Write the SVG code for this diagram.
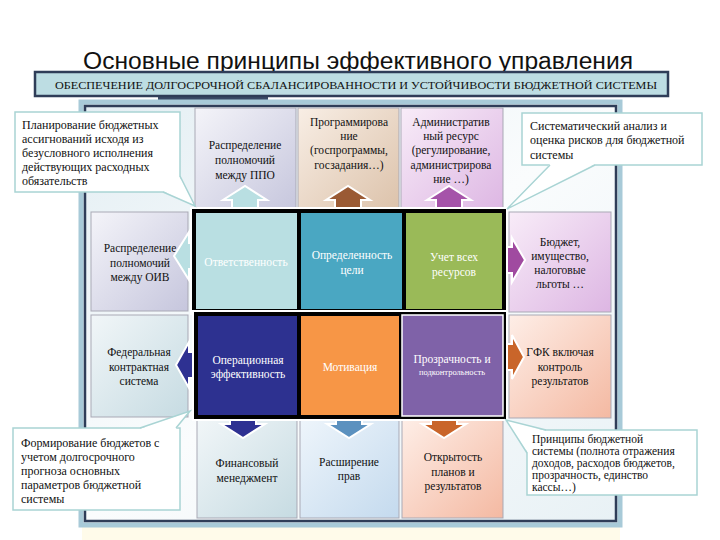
<svg xmlns="http://www.w3.org/2000/svg" width="720" height="540" viewBox="0 0 720 540">
<defs>
<linearGradient id="gLav" x1="0" y1="0" x2="1" y2="1"><stop offset="0" stop-color="#f4f4f9"/><stop offset="1" stop-color="#c6c6dd"/></linearGradient>
<linearGradient id="gBrown" x1="0" y1="0" x2="1" y2="1"><stop offset="0" stop-color="#f8eee5"/><stop offset="1" stop-color="#dcc2aa"/></linearGradient>
<linearGradient id="gPink" x1="0" y1="0" x2="1" y2="1"><stop offset="0" stop-color="#f8ecf8"/><stop offset="1" stop-color="#ddb6e3"/></linearGradient>
<linearGradient id="gBG" x1="0" y1="0" x2="1" y2="1"><stop offset="0" stop-color="#f1f6f8"/><stop offset="1" stop-color="#c6dbe2"/></linearGradient>
<linearGradient id="gBlue" x1="0" y1="0" x2="1" y2="1"><stop offset="0" stop-color="#eef5fb"/><stop offset="1" stop-color="#c4daee"/></linearGradient>
<linearGradient id="gPeach" x1="0" y1="0" x2="1" y2="1"><stop offset="0" stop-color="#feeee7"/><stop offset="1" stop-color="#f4b9a2"/></linearGradient>
<linearGradient id="gFrame" x1="0" y1="0" x2="1" y2="1"><stop offset="0" stop-color="#e3eef3"/><stop offset="0.5" stop-color="#fafcfd"/><stop offset="1" stop-color="#e8f1f5"/></linearGradient>
<style>
.box{stroke:#a9a9b5;stroke-width:1}
.t{font-family:"Liberation Serif","DejaVu Serif",serif;font-size:11.5px;fill:#111;text-anchor:middle}
.w{font-family:"Liberation Serif","DejaVu Serif",serif;font-size:11.5px;fill:#fff;text-anchor:middle}
.c{font-family:"Liberation Serif","DejaVu Serif",serif;font-size:12px;fill:#111}
.c4{font-family:"Liberation Serif","DejaVu Serif",serif;font-size:11.5px;fill:#111}
.co{fill:#fff;stroke:#a9d4d4;stroke-width:1.5}
.wedge{fill:#fff;stroke:none}
.wl{fill:none;stroke:#a9d4d4;stroke-width:1.5}
.arr{stroke:#fff;stroke-width:2;stroke-linejoin:miter}
.cell{stroke:none}
</style>
</defs>
<rect width="720" height="540" fill="#fff"/>
<rect x="82" y="527" width="538" height="13" fill="#fffbea"/>

<g id="title">
<text x="358" y="69" font-family="'Liberation Sans',Arial,sans-serif" font-size="23.5" text-anchor="middle" textLength="550" lengthAdjust="spacingAndGlyphs" fill="#111">Основные принципы эффективного управления</text>
</g>

<g id="banner">
<rect x="158" y="94" width="110" height="7" fill="#3a4a66"/>
<rect x="35" y="72" width="633" height="24" fill="#bddde3" stroke="#2f3d58" stroke-width="2.5"/>
<text x="356" y="88.5" font-family="'Liberation Serif',serif" font-size="11" text-anchor="middle" textLength="602" lengthAdjust="spacingAndGlyphs" fill="#111">ОБЕСПЕЧЕНИЕ ДОЛГОСРОЧНОЙ СБАЛАНСИРОВАННОСТИ И УСТОЙЧИВОСТИ БЮДЖЕТНОЙ СИСТЕМЫ</text>
</g>

<g id="frame">
<rect x="81" y="102" width="539" height="423" fill="url(#gFrame)" stroke="#a8cad8" stroke-width="5"/>
<rect x="85" y="106" width="531" height="415" fill="none" stroke="#2f3d58" stroke-width="2.5"/>
</g>

<g id="box-ppo"><rect class="box" x="195" y="108" width="101" height="104" fill="url(#gLav)"/>
<text class="t" x="245"><tspan x="245" y="149">Распределение</tspan><tspan x="245" y="164">полномочий</tspan><tspan x="245" y="179">между ППО</tspan></text></g>

<g id="box-prog"><rect class="box" x="298" y="108" width="101" height="104" fill="url(#gBrown)"/>
<text class="t"><tspan x="349" y="126">Программирова</tspan><tspan x="349" y="140">ние</tspan><tspan x="349" y="154">(госпрограммы,</tspan><tspan x="349" y="169">госзадания…)</tspan></text></g>

<g id="box-adm"><rect class="box" x="401" y="108" width="102" height="104" fill="url(#gPink)"/>
<text class="t"><tspan x="451" y="126">Административ</tspan><tspan x="451" y="140">ный ресурс</tspan><tspan x="451" y="154">(регулирование,</tspan><tspan x="451" y="169">администрирова</tspan><tspan x="451" y="183">ние …)</tspan></text></g>

<g id="box-oiv"><rect class="box" x="91" y="212" width="97" height="99" fill="url(#gLav)"/>
<text class="t"><tspan x="140" y="252">Распределение</tspan><tspan x="140" y="267">полномочий</tspan><tspan x="140" y="281">между ОИВ</tspan></text></g>

<g id="box-fks"><rect class="box" x="91" y="315" width="97" height="102" fill="url(#gBG)"/>
<text class="t"><tspan x="139" y="356">Федеральная</tspan><tspan x="139" y="371">контрактная</tspan><tspan x="139" y="385">система</tspan></text></g>

<g id="box-budget"><rect class="box" x="509" y="212" width="102" height="100" fill="url(#gPink)"/>
<text class="t"><tspan x="560" y="246">Бюджет,</tspan><tspan x="560" y="260">имущество,</tspan><tspan x="560" y="274">налоговые</tspan><tspan x="560" y="288">льготы …</tspan></text></g>

<g id="box-gfk"><rect class="box" x="509" y="315" width="102" height="103" fill="url(#gPeach)"/>
<text class="t"><tspan x="560" y="356">ГФК включая</tspan><tspan x="560" y="371">контроль</tspan><tspan x="560" y="385">результатов</tspan></text></g>

<g id="box-fin"><rect class="box" x="197" y="419" width="100" height="99" fill="url(#gBG)"/>
<text class="t"><tspan x="247" y="467">Финансовый</tspan><tspan x="247" y="482">менеджмент</tspan></text></g>

<g id="box-prav"><rect class="box" x="300" y="419" width="99" height="99" fill="url(#gBlue)"/>
<text class="t"><tspan x="349" y="466">Расширение</tspan><tspan x="349" y="480">прав</tspan></text></g>

<g id="box-open"><rect class="box" x="402" y="419" width="101" height="99" fill="url(#gPeach)"/>
<text class="t"><tspan x="453" y="461">Открытость</tspan><tspan x="453" y="476">планов и</tspan><tspan x="453" y="490">результатов</tspan></text></g>

<g id="connectors">
<polygon class="arr" fill="#b9dfe2" points="232,213 232,200 223,200 245,186 267,200 258,200 258,213"/>
<polygon class="arr" fill="#9a5a34" points="335,213 335,200 326,200 348,186 370,200 361,200 361,213"/>
<polygon class="arr" fill="#a553a9" points="436,213 436,200 427,200 449,186 471,200 462,200 462,213"/>
<polygon class="arr" fill="#b9dfe2" points="197,243 189,243 189,232 174,256 189,280 189,269 197,269"/>
<polygon class="arr" fill="#2e3192" points="199,352 189,352 189,342 176,365 189,388 189,378 199,378"/>
<polygon class="arr" fill="#a04aa0" points="504,247 512,247 512,238 525,260 512,282 512,273 504,273"/>
<polygon class="arr" fill="#c9652a" points="504,344 512,344 512,335 524,357 512,379 512,370 504,370"/>
<polygon class="arr" fill="#2e3192" points="230,414 230,424 221,424 243,438 265,424 256,424 256,414"/>
<polygon class="arr" fill="#5b91bf" points="336,414 336,424 327,424 349,438 371,424 362,424 362,414"/>
<polygon class="arr" fill="#c9652a" points="431,414 431,424 422,424 444,438 466,424 457,424 457,414"/>
</g>

<g id="grid-row1">
<rect x="191" y="208" width="316" height="106" fill="none" stroke="#fff" stroke-width="2"/>
<rect x="192" y="209" width="314" height="104" fill="#000"/>
</g>
<g id="cell-otv"><rect class="cell" x="196" y="213" width="101" height="96" fill="#b9dfe2"/>
<text class="w" x="246" y="266">Ответственность</text></g>
<g id="cell-opr"><rect class="cell" x="301" y="213" width="101" height="96" fill="#4aa7c2"/>
<text class="w"><tspan x="352" y="259">Определенность</tspan><tspan x="352" y="274">цели</tspan></text></g>
<g id="cell-uch"><rect class="cell" x="406" y="213" width="96" height="96" fill="#9aba58"/>
<text class="w"><tspan x="454" y="261">Учет всех</tspan><tspan x="454" y="276">ресурсов</tspan></text></g>

<g id="grid-row2">
<rect x="193" y="311" width="314" height="109" fill="none" stroke="#fff" stroke-width="2"/>
<rect x="194" y="312" width="312" height="107" fill="#000"/>
</g>
<g id="cell-oper"><rect class="cell" x="198" y="316" width="99" height="99" fill="#2d3190"/>
<text class="w"><tspan x="248" y="364">Операционная</tspan><tspan x="248" y="378">эффективность</tspan></text></g>
<g id="cell-mot"><rect class="cell" x="301" y="316" width="98" height="99" fill="#f79646"/>
<text class="w" x="350" y="371">Мотивация</text></g>
<g id="cell-proz"><rect x="402" y="315" width="101" height="101" fill="#7f62a8" stroke="#fff" stroke-width="1.5"/>
<text class="w"><tspan x="452" y="363">Прозрачность и</tspan><tspan x="452" y="375" font-size="8.5">подконтрольность</tspan></text></g>

<g id="callout-1">
<rect class="co" x="15" y="112" width="165" height="80"/>
<polygon class="wedge" points="163,191 195,206 179,176"/>
<polyline class="wl" points="163,192 195,206 180,176"/>
<text class="c"><tspan x="22" y="129">Планирование бюджетных</tspan><tspan x="22" y="143">ассигнований исходя из</tspan><tspan x="22" y="157">безусловного исполнения</tspan><tspan x="22" y="171">действующих расходных</tspan><tspan x="22" y="185">обязательств</tspan></text>
</g>

<g id="callout-2">
<rect class="co" x="522" y="113" width="180" height="52"/>
<polygon class="wedge" points="550,164 507,209 595,164"/>
<polyline class="wl" points="550,165 507,209 595,165"/>
<text class="c"><tspan x="530" y="130">Систематический анализ и</tspan><tspan x="530" y="144">оценка рисков для бюджетной</tspan><tspan x="530" y="159">системы</tspan></text>
</g>

<g id="callout-3">
<rect class="co" x="13" y="428" width="167" height="82"/>
<polygon class="wedge" points="140,429 190,411 176,429"/>
<polyline class="wl" points="140,428 190,411 176,428"/>
<text class="c"><tspan x="21" y="447">Формирование бюджетов с</tspan><tspan x="21" y="461">учетом долгосрочного</tspan><tspan x="21" y="475">прогноза основных</tspan><tspan x="21" y="489">параметров бюджетной</tspan><tspan x="21" y="503">системы</tspan></text>
</g>

<g id="callout-4">
<rect class="co" x="527" y="430" width="170" height="65"/>
<polygon class="wedge" points="528,453 506,420 546,431"/>
<polyline class="wl" points="527,453 506,420 546,430"/>
<text class="c4"><tspan x="532" y="443">Принципы бюджетной</tspan><tspan x="532" y="455">системы (полнота отражения</tspan><tspan x="532" y="467">доходов, расходов бюджетов,</tspan><tspan x="532" y="479">прозрачность, единство</tspan><tspan x="532" y="491">кассы…)</tspan></text>
</g>
</svg>
